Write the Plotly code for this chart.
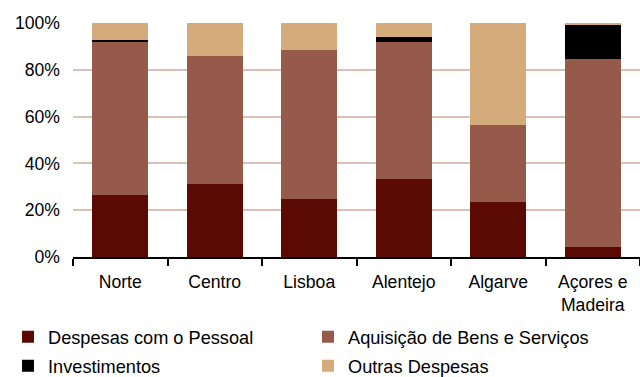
import plotly.graph_objects as go

categories = ["Norte", "Centro", "Lisboa", "Alentejo", "Algarve", "Açores e<br>Madeira"]
pessoal = [26.5, 31.3, 24.8, 33.3, 23.5, 4.3]
aquisicao = [65.5, 54.7, 63.7, 58.6, 32.9, 80.3]
investimentos = [0.7, 0.0, 0.0, 2.2, 0.0, 14.7]
outras = [7.3, 14.0, 11.5, 5.9, 43.6, 0.7]

series = [
    ("Despesas com o Pessoal", pessoal, "#5a0a02", "legend"),
    ("Aquisição de Bens e Serviços", aquisicao, "#955a4a", "legend2"),
    ("Investimentos", investimentos, "#000000", "legend3"),
    ("Outras Despesas", outras, "#d4ac7c", "legend4"),
]

fig = go.Figure()
for name, vals, col, lg in series:
    fig.add_trace(go.Bar(x=categories, y=vals, name=name, legend=lg,
                         marker=dict(color=col, line=dict(width=0))))

font = dict(family="Liberation Sans, Arial, sans-serif", size=17.6, color="#000000")
legfont = dict(family="Liberation Sans, Arial, sans-serif", size=18.2, color="#000000")


def leg(x, y):
    return dict(orientation="h", xref="container", yref="container", x=x, xanchor="left",
                y=y, yanchor="middle", font=legfont, itemclick=False, borderwidth=0,
                bgcolor="rgba(0,0,0,0)")


fig.update_layout(
    barmode="stack",
    width=640, height=377,
    margin=dict(l=73, r=0, t=23, b=120, autoexpand=False),
    paper_bgcolor="white", plot_bgcolor="white",
    font=font,
    bargap=0.407,
    showlegend=True,
    legend=leg(8 / 640, 1 - 337 / 377),
    legend2=leg(308 / 640, 1 - 337 / 377),
    legend3=leg(8 / 640, 1 - 366 / 377),
    legend4=leg(308 / 640, 1 - 366 / 377),
    xaxis=dict(type="category", showline=True, linecolor="#000000", linewidth=2,
               ticks="outside", tickson="boundaries", ticklen=7, tickcolor="#000000", tickwidth=2,
               showgrid=False, tickfont=font, ticklabelstandoff=8),
    yaxis=dict(range=[0, 100], dtick=20, ticksuffix="%", showline=False,
               showgrid=True, gridcolor="#dcc0b6", gridwidth=2, zeroline=False,
               ticks="", tickfont=font, ticklabelstandoff=12),
)
fig.write_html("out.html", config={"displayModeBar": False},
               post_script="document.body.style.margin='0';")
